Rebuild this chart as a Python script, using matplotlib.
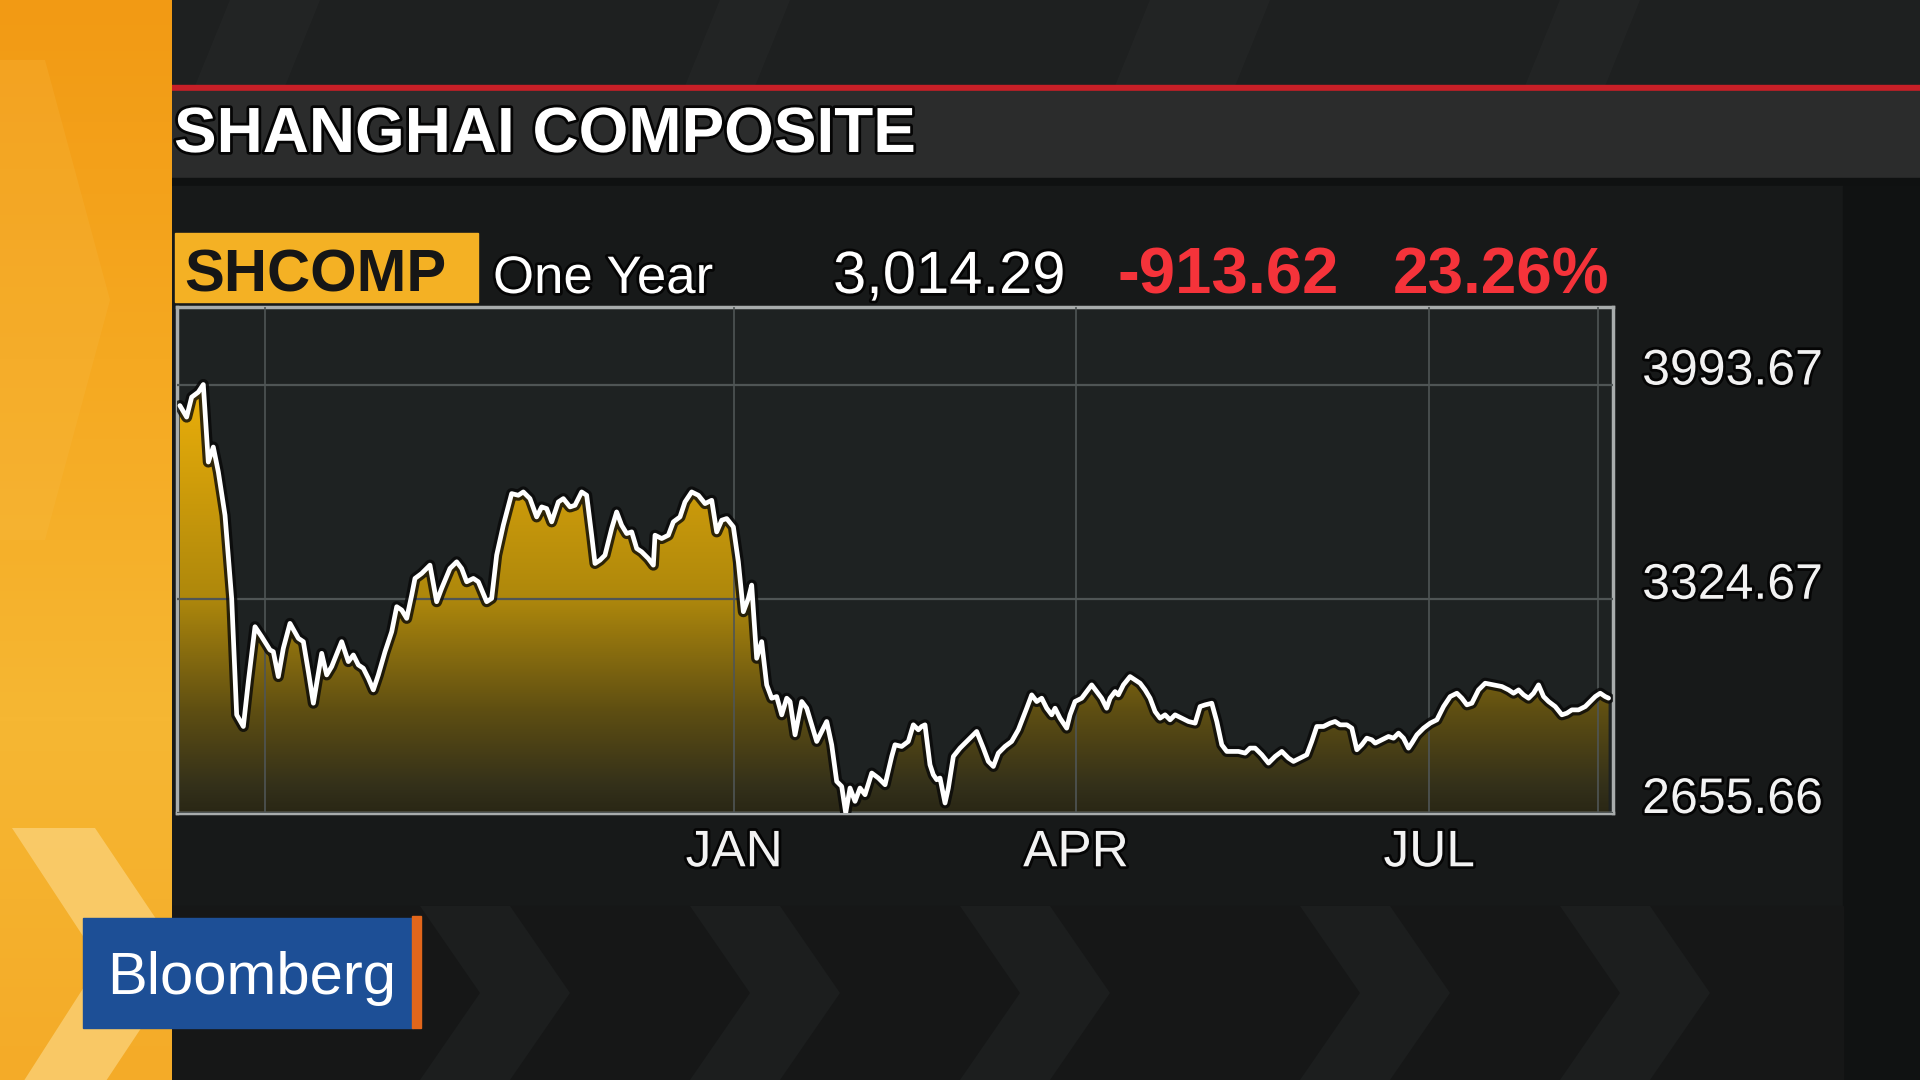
import numpy as np
import matplotlib
matplotlib.use("Agg")
import matplotlib.pyplot as plt
import matplotlib.patheffects as pe
from matplotlib.colors import LinearSegmentedColormap
from matplotlib.patches import Rectangle, Polygon

plt.rcParams["font.family"] = ["Liberation Sans", "DejaVu Sans"]

# SHCOMP closes, one year, x = trading session since Aug 11 2015
session = [
    0.5, 1.68, 2.55, 3.71, 4.58, 5.45, 6.32, 7.2, 8.36, 9.52, 10.39, 11.55, 12.42, 13.58,
    14.74, 16.19, 16.77, 17.64, 18.51, 19.67, 21.13, 22.0, 22.87, 23.74, 24.61, 25.19,
    26.06, 26.93, 28.67, 29.83, 30.7, 31.57, 32.44, 33.31, 34.18, 35.05, 36.22, 37.38,
    38.25, 39.12, 39.99, 40.86,
    41.43, 42.59, 44.04, 45.2, 46.07, 47.52, 48.69, 49.56, 50.43, 51.59, 52.46, 53.91,
    54.78, 55.65, 56.81, 58.26, 59.42, 60.29, 61.45, 62.61, 63.49, 64.36, 65.23, 66.39,
    67.26, 68.42, 69.29, 70.45, 71.32, 72.19, 72.77, 73.64, 74.51, 75.67, 76.54, 77.41,
    78.29, 79.16, 80.03, 80.9, 82.06, 82.93,
    83.22, 84.38, 85.54, 86.41, 87.57, 88.44, 89.6, 90.77, 91.93, 93.09, 93.96, 94.83,
    95.7, 96.86, 97.73, 98.6, 99.47, 100.05, 100.92, 101.79, 102.66, 103.53, 104.4,
    105.28, 106.15, 106.73, 107.6, 108.76, 109.63, 110.5, 111.37, 112.24, 113.11, 113.98,
    114.85, 115.72, 116.42, 117.17, 118.04, 118.91, 119.78, 120.95, 122.11, 123.27, 124.43,
    125.0, 126.16, 127.32, 128.19, 129.06, 129.64, 130.22, 131.09, 131.67, 132.26, 132.84,
    133.71, 134.29, 135.16, 136.32, 137.48, 139.22, 140.38, 141.25, 142.12, 142.99, 144.15,
    145.31, 146.47, 147.93, 148.8, 149.67, 150.54, 151.41, 152.28, 152.86, 153.73, 154.89,
    155.47, 156.34, 157.5, 158.37, 159.24, 160.11, 160.98, 161.85, 162.44, 163.31, 163.89,
    164.76, 165.92, 166.79,
    167.67, 168.54, 169.41, 170.28, 171.15, 172.02, 172.89, 173.76, 174.93, 176.09, 177.25,
    178.12, 178.99, 180.15, 181.02, 181.89, 182.76, 183.63, 184.79, 185.95, 186.82, 187.69,
    188.86, 190.02, 191.18, 192.34, 193.5, 194.37, 195.53, 196.69, 197.56, 198.43, 199.59,
    200.75, 201.62, 202.49, 203.66, 204.53, 205.4, 206.27, 207.14, 208.01,
    208.6, 209.76, 210.92, 211.79, 212.66, 213.53, 214.4, 214.98, 215.86, 217.02, 218.18,
    219.34, 220.5, 221.66, 222.82, 223.69, 224.56, 225.43, 226.01, 226.59, 227.75, 229.2,
    230.66, 231.82, 232.69, 233.56, 234.43, 235.3, 236.17, 237.04, 237.91, 238.78, 239.94,
    241.1, 241.97, 242.84, 244.0, 245.17, 246.04, 246.91, 247.78, 248.64, 249.23,
]
close = [
    3927.9, 3891.9, 3954.2, 3969.8, 3993.7, 3751.6, 3798.4, 3720.5, 3585.4, 3325.7, 2962.2,
    2925.8, 3066.0, 3237.4, 3206.3, 3164.7, 3159.5, 3081.6, 3169.9, 3247.8, 3201.1, 3190.7,
    3097.2, 2998.5, 3092.0, 3154.3, 3086.8, 3112.8, 3190.7, 3128.4, 3149.1, 3118.0, 3107.6,
    3076.4, 3040.1, 3086.8, 3159.5, 3221.9, 3299.8, 3289.4, 3263.4, 3336.1,
    3388.1, 3403.6, 3429.6, 3315.4, 3356.9, 3419.2, 3440.0, 3419.2, 3377.7, 3388.1, 3377.7,
    3315.4, 3325.7, 3460.8, 3554.3, 3653.0, 3647.8, 3658.2, 3637.4, 3580.2, 3611.4, 3606.2,
    3564.7, 3627.0, 3637.4, 3611.4, 3616.6, 3658.2, 3647.8, 3523.1, 3434.8, 3445.2, 3460.8,
    3543.9, 3595.8, 3554.3, 3528.3, 3533.5, 3481.6, 3471.2, 3450.4, 3429.6,
    3523.1, 3512.7, 3523.1, 3564.7, 3580.2, 3627.0, 3658.2, 3647.8, 3621.8, 3632.2, 3533.5,
    3569.9, 3575.1, 3549.1, 3440.0, 3284.2, 3325.7, 3367.3, 3138.8, 3190.7, 3055.7, 3014.1,
    3019.3, 2962.2, 3014.1, 3003.7, 2899.8, 3003.7, 2982.9, 2931.0, 2879.1, 2910.2, 2941.4,
    2868.7, 2754.4, 2738.8, 2655.7, 2733.6, 2692.1, 2733.6, 2712.8, 2780.4, 2764.8, 2744.0,
    2832.3,
    2868.7, 2863.5, 2879.1, 2931.0, 2915.4, 2925.8, 2931.0, 2806.3, 2775.2, 2759.6, 2764.8,
    2686.9, 2733.6, 2832.3, 2858.3, 2879.1, 2910.2, 2858.3, 2816.7, 2801.1, 2842.7, 2863.5,
    2879.1, 2915.4, 2982.9, 3024.5, 3003.7, 3014.1, 2982.9, 2962.2, 2982.9, 2951.8, 2920.6,
    2962.2, 3003.7, 3014.1, 3034.9, 3055.7, 3034.9, 3014.1, 2982.9, 3014.1, 3034.9, 3024.5,
    3055.7, 3081.6, 3071.2,
    3060.9, 3040.1, 3014.1, 2972.5, 2951.8, 2962.2, 2946.6, 2962.2, 2951.8, 2941.4, 2936.2,
    2988.1, 2993.3, 2998.5, 2941.4, 2868.7, 2847.9, 2847.9, 2847.9, 2842.7, 2858.3, 2858.3,
    2837.5, 2811.5, 2832.3, 2847.9, 2827.1, 2816.7, 2827.1, 2837.5, 2879.1, 2925.8, 2925.8,
    2936.2, 2941.4, 2931.0, 2931.0, 2920.6, 2853.1, 2868.7, 2889.4, 2884.2,
    2873.9, 2884.2, 2894.6, 2889.4, 2905.0, 2889.4, 2858.3, 2873.9, 2899.8, 2920.6, 2936.2,
    2946.6, 2988.1, 3019.3, 3029.7, 3014.1, 2993.3, 2998.5, 3019.3, 3040.1, 3060.9, 3055.7,
    3050.5, 3040.1, 3029.7, 3040.1, 3024.5, 3014.1, 3029.7, 3055.7, 3019.3, 3003.7, 2988.1,
    2962.2, 2967.4, 2977.7, 2977.7, 2988.1, 3003.7, 3019.3, 3029.7, 3019.3, 3014.29,
]

month_sessions = [15.3, 97.0, 156.5, 218.0, 247.4]
month_labels = ["", "JAN", "APR", "JUL", ""]
level_ticks = [2655.66, 3324.67, 3993.67]
level_labels = ["2655.66", "3324.67", "3993.67"]

ticker = "SHCOMP"
period = "One Year"
last_price = "3,014.29"
net_change = "-913.62"
pct_change = "23.26%"
title = "SHANGHAI COMPOSITE"

W, H = 1920, 1080
fig = plt.figure(figsize=(19.2, 10.8), dpi=100, facecolor="#1a1b1b")

# background decoration in pixel space
bg = fig.add_axes([0, 0, 1, 1], zorder=-5)
bg.set_xlim(0, W)
bg.set_ylim(H, 0)
bg.axis("off")
bg.add_patch(Rectangle((0, 0), W, H, color="#1a1b1b"))
bg.add_patch(Rectangle((157, 0), W, 86, color="#1e2020"))
for x0, w in [(230, 90), (720, 70), (1150, 120), (1560, 80)]:
    bg.add_patch(Polygon([(x0, 0), (x0 + w, 0), (x0 + w - 35, 86), (x0 - 35, 86)],
                         color="#262828", alpha=0.6, lw=0))
bg.add_patch(Rectangle((157, 85), W, 6, color="#c81f27"))
bg.add_patch(Rectangle((157, 91), W, 87, color="#2b2c2c"))
bg.add_patch(Rectangle((157, 178), W, 8, color="#0f1111"))
bg.add_patch(Rectangle((172, 186), 1671, 720, color="#171919"))
bg.add_patch(Rectangle((1843, 186), 77, 894, color="#101212"))
bg.add_patch(Rectangle((172, 906), 1671, 174, color="#161717"))
for x0 in [420, 690, 960, 1300, 1560]:
    bg.add_patch(Polygon([(x0, 906), (x0 + 90, 906), (x0 + 150, 993), (x0 + 90, 1080),
                          (x0, 1080), (x0 + 60, 993)], color="#1c1e1e", lw=0))

# orange side panel
orange = LinearSegmentedColormap.from_list("orange", ["#f29a14", "#f5a921", "#f6b733", "#f4ab28"])
bg.imshow(np.linspace(0, 1, 256).reshape(-1, 1), cmap=orange, aspect="auto",
          extent=[0, 172, H, 0], zorder=1)
side = Rectangle((0, 0), 172, H, transform=bg.transData)
for pts, col, a in [
    ([(0, 60), (45, 60), (110, 300), (45, 540), (0, 540)], "#f8c050", 0.2),
    ([(12, 828), (95, 828), (185, 962), (100, 1090), (18, 1090), (100, 962)], "#fbd27a", 0.75),
]:
    p = Polygon(pts, color=col, alpha=a, lw=0, zorder=2)
    bg.add_patch(p)
    p.set_clip_path(side)

# Bloomberg logo
bg.add_patch(Rectangle((83, 918), 330, 110, color="#1d4f96", zorder=3))
bg.add_patch(Rectangle((412, 916), 9, 112, color="#e2661b", zorder=3))
fig.text(107 / W, 1 - 994 / H, "Bloomberg", color="white", fontsize=43, zorder=5)

outline = [pe.withStroke(linewidth=4, foreground="#050505")]

# header texts
fig.text(174 / W, 1 - 152 / H, title, color="white", fontsize=46, fontweight="bold",
         path_effects=outline)
bg.add_patch(Rectangle((175, 233), 303, 69, color="#f4b124", zorder=3))
fig.text(184 / W, 1 - 292 / H, ticker, color="#161616", fontsize=43, fontweight="bold")
fig.text(493 / W, 1 - 293 / H, period, color="white", fontsize=38, path_effects=outline)
fig.text(833 / W, 1 - 293 / H, last_price, color="white", fontsize=43, path_effects=outline)
fig.text(1117 / W, 1 - 293 / H, net_change, color="#f5333a", fontsize=47, fontweight="bold")
fig.text(1393 / W, 1 - 293 / H, pct_change, color="#f5333a", fontsize=46, fontweight="bold")

# chart
ymin, ymax = 2655.66, 4235.7
ax = fig.add_axes([177 / W, (H - 813) / H, 1436 / W, 506 / H])
ax.set_facecolor("#1e2222")
ax.set_xlim(0, 250)
ax.set_ylim(ymin, ymax)

gold = LinearSegmentedColormap.from_list(
    "gold", [(0, "#2a2715"), (0.05, "#33301a"), (0.2, "#5e4e12"), (0.42, "#ad870c"),
             (0.76, "#dfa70a"), (0.85, "#ecb30a"), (1, "#f2ba0a")])
grad = ax.imshow(np.linspace(0, 1, 256).reshape(-1, 1), cmap=gold, origin="lower",
                 aspect="auto", extent=[0, 250, ymin, ymax], zorder=1)
area = Polygon(list(zip(session, close)) + [(session[-1], ymin), (session[0], ymin)],
               transform=ax.transData, facecolor="none", edgecolor="none")
ax.add_patch(area)
grad.set_clip_path(area)

ax.plot(session, close, color="white", lw=3.4, zorder=4, solid_joinstyle="round",
        solid_capstyle="round",
        path_effects=[pe.Stroke(linewidth=8, foreground="#080808", alpha=0.8), pe.Normal()])

ax.set_axisbelow(False)
ax.set_xticks(month_sessions)
ax.set_xticklabels(month_labels)
ax.yaxis.tick_right()
ax.set_yticks(level_ticks)
ax.set_yticklabels(level_labels)
ax.grid(True, axis="y", color="#4f5555", lw=1.6)
ax.grid(True, axis="x", color="#4f5555", lw=1.2)
ax.tick_params(axis="x", length=0, pad=11, labelsize=37, labelcolor="#f2f2f2")
ax.tick_params(axis="y", length=0, pad=21, labelsize=36, labelcolor="#f2f2f2")
for lab in ax.get_yticklabels():
    lab.set_va("baseline")
    lab.set_path_effects(outline)
for lab in ax.get_xticklabels():
    lab.set_path_effects(outline)
for s in ax.spines.values():
    s.set_color("#a8acac")
    s.set_linewidth(2.5)

plt.savefig("out.png", dpi=100, facecolor=fig.get_facecolor())
